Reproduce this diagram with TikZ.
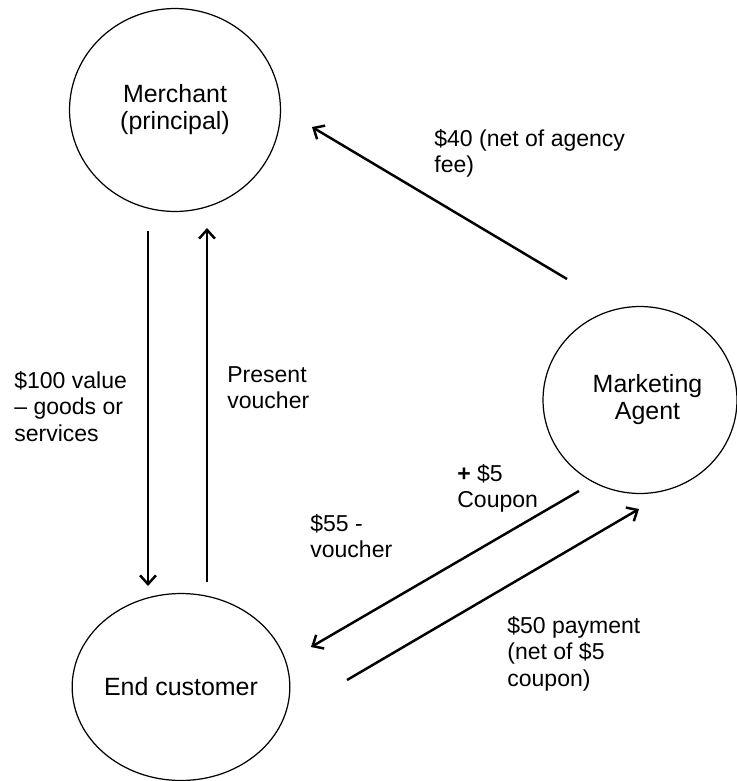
\documentclass[tikz,border=0pt]{standalone}
\usepackage{fontspec}
\setmainfont{Liberation Sans}
\usetikzlibrary{arrows.meta, shapes.geometric, calc}
\tikzset{
  % Party ellipse
  Party/.style={ellipse,draw=black,line width=0.7pt,inner sep=0pt,
                align=center,font=\fontsize{14.2}{15.4}\selectfont},
  % Flow label
  Lbl/.style={anchor=north west,inner sep=0pt,align=left,
              font=\fontsize{13.1}{15.1}\selectfont},
  % Flow arrow
  Arr/.style={-{Straight Barb[length=5pt,width=9pt]},line width=1.4pt},
}

\begin{document}
\begin{tikzpicture}[x=0.02cm,y=-0.02cm]
  \useasboundingbox (0,0) rectangle (737,781);
  % Parties
  \node[Party,minimum width=4.22cm,minimum height=4.06cm] (merch) at (175,110)
        {Merchant\\(principal)};
  \node[Party,minimum width=4.12cm,minimum height=3.74cm] (cust) at (181,687)
        {End customer};
  \node[Party,minimum width=3.88cm,minimum height=3.74cm] (agent) at (640,400)
        {\hspace*{0.3cm}Marketing\\\hspace*{0.3cm}Agent};
  % Arrow ends
  \coordinate (mdown) at (148,231);
  \coordinate (cdown) at (148,586);
  \coordinate (cup)   at (207,582);
  \coordinate (mup)   at (207,228);
  \coordinate (afee)  at (567,279);
  \coordinate (mfee)  at (312,127);
  \coordinate (avou)  at (579,491);
  \coordinate (cvou)  at (311,647);
  \coordinate (cpay)  at (347,680);
  \coordinate (apay)  at (639,509);
  % Flows
  \draw[Arr] (mdown) -- (cdown);
  \draw[Arr] (cup) -- (mup);
  \draw[Arr] (afee) -- (mfee);
  \draw[Arr] (avou) -- (cvou);
  \draw[Arr] (cpay) -- (apay);
  % Labels
  \node[Lbl] (l40)   at (434,129) {\$40 (net of agency\\fee)};
  \node[Lbl] (l100)  at (14,371)  {\$100 value\\– goods or\\services};
  \node[Lbl] (lpres) at (227,366) {Present\\voucher};
  \node[Lbl] (l55)   at (310,514) {\$55 -\\voucher};
  \node[Lbl] (l5)    at (457,464) {\textbf{+} \$5\\Coupon};
  \node[Lbl] (l50)   at (507,616) {\$50 payment\\(net of \$5\\coupon)};
\end{tikzpicture}
\end{document}
